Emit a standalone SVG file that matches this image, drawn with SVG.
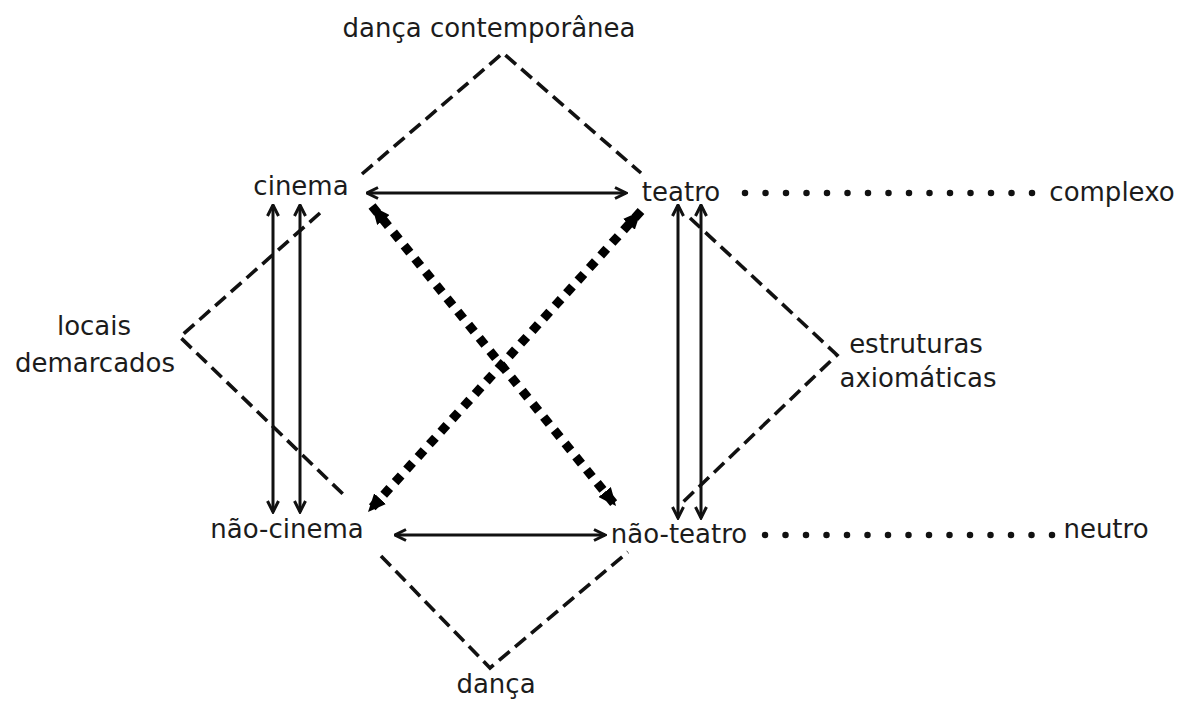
<svg xmlns="http://www.w3.org/2000/svg" width="1179" height="702" viewBox="0 0 1179 702">
<style>
text{font-family:"DejaVu Sans",Verdana,sans-serif;font-size:26px;fill:#1c1c1c;text-anchor:middle}
.dash{fill:none;stroke:#111;stroke-width:3.6;stroke-dasharray:14 7}
.arr{fill:none;stroke:#111;stroke-width:3}
.thick{fill:none;stroke:#000;stroke-width:9;stroke-dasharray:9 8}
.dots{fill:none;stroke:#111;stroke-width:6.5;stroke-linecap:round;stroke-dasharray:0 20.5}
</style>
<defs>
<marker id="ah" viewBox="0 0 14 14" refX="12.5" refY="7" markerWidth="14" markerHeight="14" markerUnits="userSpaceOnUse" orient="auto-start-reverse">
<path d="M1.5,1.5 L12.5,7 L1.5,12.5" fill="none" stroke="#111" stroke-width="3"/>
</marker>
<marker id="th" viewBox="0 0 18 16" refX="18" refY="8" markerWidth="18" markerHeight="16" markerUnits="userSpaceOnUse" orient="auto-start-reverse">
<path d="M0,0 L18,8 L0,16 Z" fill="#000"/>
</marker>
</defs>
<g id="connectors">
<path class="dash" d="M362,174 L503,53 L641,173"/>
<path class="dash" d="M320,213 L180,337 L346,497"/>
<path class="dash" d="M690,218 L837,355 L682,503"/>
<path class="dash" d="M381,556 L490,668 L628,552"/>
<line class="arr" x1="367" y1="193" x2="626" y2="193" marker-start="url(#ah)" marker-end="url(#ah)"/>
<line class="arr" x1="395" y1="535" x2="605" y2="535" marker-start="url(#ah)" marker-end="url(#ah)"/>
<line class="arr" x1="273" y1="205" x2="273" y2="512" marker-start="url(#ah)" marker-end="url(#ah)"/>
<line class="arr" x1="300" y1="205" x2="300" y2="512" marker-start="url(#ah)" marker-end="url(#ah)"/>
<line class="arr" x1="678" y1="205" x2="678" y2="518" marker-start="url(#ah)" marker-end="url(#ah)"/>
<line class="arr" x1="701" y1="205" x2="701" y2="518" marker-start="url(#ah)" marker-end="url(#ah)"/>
<line class="thick" x1="372" y1="206" x2="616" y2="506" marker-start="url(#th)" marker-end="url(#th)"/>
<line class="thick" x1="641" y1="211" x2="368" y2="512" marker-start="url(#th)" marker-end="url(#th)"/>
<line class="dots" x1="745" y1="193" x2="1035" y2="193"/>
<line class="dots" x1="765" y1="535" x2="1055" y2="535"/>
</g>
<g id="n-danca-contemporanea"><text x="489" y="37">dança contemporânea</text></g>
<g id="n-cinema"><text x="301" y="195">cinema</text></g>
<g id="n-teatro"><text x="681" y="201">teatro</text></g>
<g id="n-complexo"><text x="1112" y="201">complexo</text></g>
<g id="n-locais"><text x="94" y="335">locais</text><text x="95" y="372">demarcados</text></g>
<g id="n-estruturas"><text x="916" y="353">estruturas</text><text x="918" y="387">axiomáticas</text></g>
<g id="n-nao-cinema"><text x="287" y="538">não-cinema</text></g>
<g id="n-nao-teatro"><text x="679" y="543">não-teatro</text></g>
<g id="n-neutro"><text x="1106" y="538">neutro</text></g>
<g id="n-danca"><text x="496" y="693">dança</text></g>
</svg>
